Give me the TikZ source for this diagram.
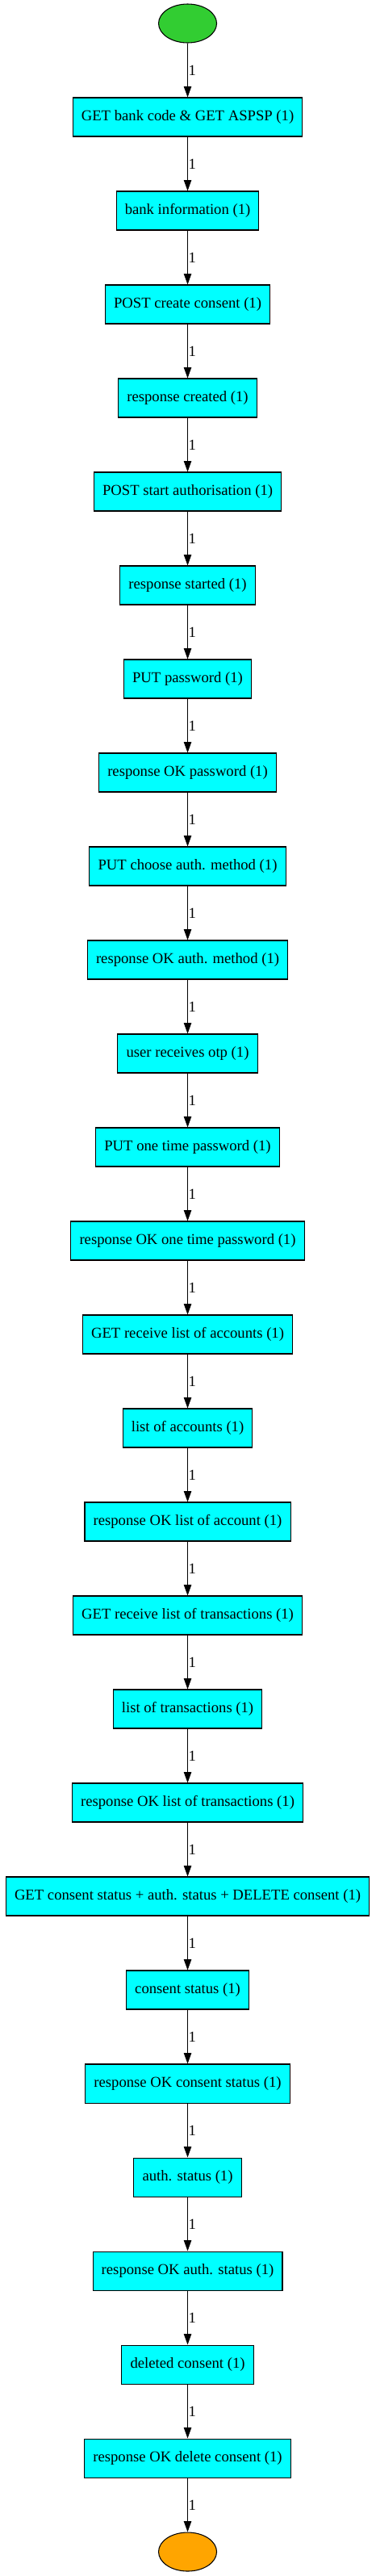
\documentclass[tikz,border=0pt]{standalone}
\usepackage{fontspec}
\setmainfont{Liberation Serif}
\usetikzlibrary{arrows.meta,shapes.geometric}
\definecolor{startgreen}{HTML}{32CD32}
\definecolor{boxcyan}{HTML}{00FFFF}
\definecolor{endorange}{HTML}{FFA500}
\begin{document}
\begin{tikzpicture}[x=1pt,y=1pt,
  box/.style={draw=black, fill=boxcyan, line width=0.8pt, minimum height=36pt, inner xsep=8pt, inner ysep=0pt, font=\fontsize{14pt}{16pt}\selectfont},
  term/.style={ellipse, draw=black, line width=0.8pt, minimum width=54pt, minimum height=36pt, inner sep=0pt},
  flow/.style={-{Triangle[length=10pt,width=7pt]}, line width=0.8pt},
  lbl/.style={anchor=west, inner sep=0.5pt, font=\fontsize{14pt}{16pt}\selectfont}]
\useasboundingbox (0,0) rectangle (348.75,-2393.25);
\def\cx{174.4}
\node[term, fill=startgreen] (s) at (\cx,-21.75) {};
\foreach \t [count=\i] in {
  GET bank code \& GET ASPSP (1),
  bank information (1),
  POST create consent (1),
  response created (1),
  POST start authorisation (1),
  response started (1),
  PUT password (1),
  response OK password (1),
  PUT choose auth. method (1),
  response OK auth. method (1),
  user receives otp (1),
  PUT one time password (1),
  response OK one time password (1),
  GET receive list of accounts (1),
  list of accounts (1),
  response OK list of account (1),
  GET receive list of transactions (1),
  list of transactions (1),
  response OK list of transactions (1),
  GET consent status + auth. status + DELETE consent (1),
  consent status (1),
  response OK consent status (1),
  auth. status (1),
  response OK auth. status (1),
  deleted consent (1),
  response OK delete consent (1)}
{
  \pgfmathsetmacro\yy{-(108.75+(\i-1)*87)}
  \node[box] (n\i) at (\cx,\yy) {\t};
}
\node[term, fill=endorange] (e) at (\cx,-2370.75) {};
\draw[flow] (s) -- (n1) node[lbl, midway] {1};
\foreach \i [evaluate=\i as \j using int(\i+1)] in {1,...,25}
  \draw[flow] (n\i) -- (n\j) node[lbl, midway] {1};
\draw[flow] (n26) -- (e) node[lbl, midway] {1};
\end{tikzpicture}
\end{document}
